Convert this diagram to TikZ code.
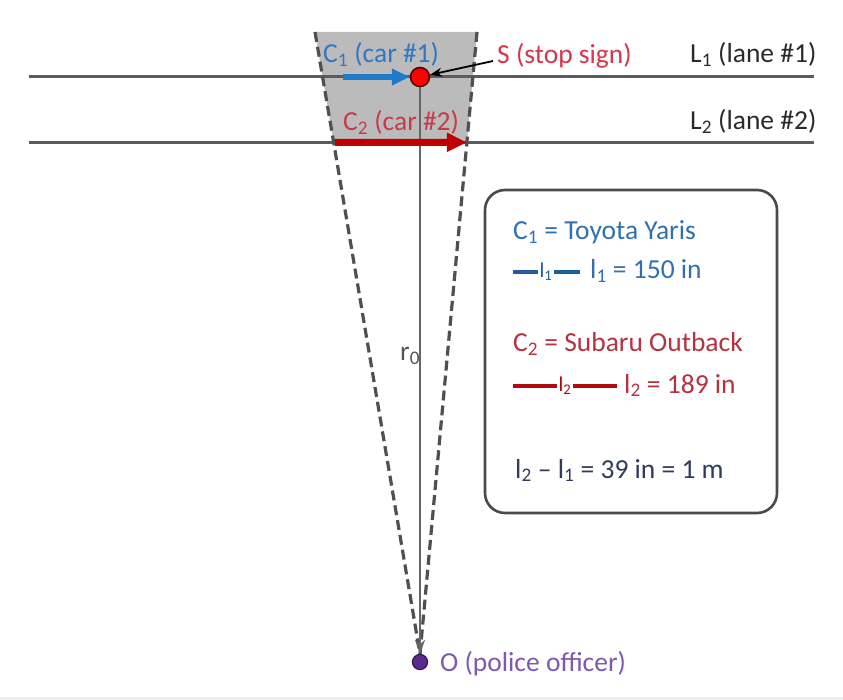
\documentclass[tikz,border=0pt]{standalone}
\usepackage{fontspec}
\setmainfont{Carlito}
\usetikzlibrary{arrows.meta,calc}
\definecolor{laneGray}{HTML}{5C5C5C}
\definecolor{zoneGray}{HTML}{BBBBBB}
\definecolor{sightGray}{HTML}{505050}
\definecolor{rayGray}{HTML}{666666}
\definecolor{boxGray}{HTML}{4A4A4A}
\definecolor{carBlue}{HTML}{1F7AC8}
\definecolor{lblBlue}{HTML}{2E78C4}
\definecolor{txtBlue}{HTML}{3070B0}
\definecolor{mkBlue}{HTML}{1F5E9E}
\definecolor{carRed}{HTML}{C00000}
\definecolor{lblRed}{HTML}{C83A48}
\definecolor{txtRed}{HTML}{B5323F}
\definecolor{mkRed}{HTML}{B00A10}
\definecolor{stopRed}{HTML}{D6354A}
\definecolor{offTxt}{HTML}{8058B0}
\definecolor{offDot}{HTML}{5B2A8E}
\definecolor{navyTxt}{HTML}{2E3B5A}
\definecolor{darkTxt}{HTML}{2A2A2A}
\begin{document}
\begin{tikzpicture}[x=1pt,y=-1pt,
  lbl/.style={font=\fontsize{27.5}{30}\selectfont, inner sep=0pt, anchor=base west},
  smalllbl/.style={font=\fontsize{21}{23}\selectfont, inner sep=1pt},
  lane/.style={draw=laneGray, line width=3pt},
  sight/.style={draw=sightGray, line width=3.2pt, dash pattern=on 10pt off 5pt},
  marker/.style={line width=4.5pt},
]
\useasboundingbox (0,0) rectangle (843,700);
\fill[white] (0,0) rectangle (843,700);
\fill[black!6] (0,697) rectangle (843,700);

% key points
\coordinate (TL) at (315,32);
\coordinate (TR) at (477,32);
\coordinate (Otip) at (420,654);
\coordinate (BL) at ($(TL)!0.1774!(Otip)$);
\coordinate (BR) at ($(TR)!0.1774!(Otip)$);

% shaded zone
\fill[zoneGray] (TL) -- (TR) -- (BR) -- (BL) -- cycle;

% lanes
\coordinate (L1a) at (29,77);
\coordinate (L1b) at (814,77);
\coordinate (L2a) at (29,142.5);
\coordinate (L2b) at (814,142.5);
\draw[lane] (L1a) -- (L1b);
\draw[lane] (L2a) -- (L2b);

% lines of sight
\draw[sight] (TL) -- (Otip);
\draw[sight] (TR) -- (Otip);

% stop sign and officer
\node[circle, fill=red, draw=black!70!red, line width=1.5pt, minimum size=19pt, inner sep=0pt] (S) at (420,77) {};
\node[circle, fill=offDot, draw=offDot!60!black, line width=1.3pt, minimum size=15pt, inner sep=0pt] (O) at (420,662) {};

% r0 ray
\draw[draw=rayGray, line width=2.6pt, -{Stealth[length=14pt,width=10pt]}] (S.south) -- (O.north);
\node[lbl, text=darkTxt!80!white] (r0) at (400,361) {r\textsubscript{0}};

% cars
\coordinate (C1s) at (343,77);
\draw[carBlue, line width=6pt, -{Triangle[length=18pt,width=16pt]}] (C1s) -- (S.west);
\coordinate (C2s) at (335,142.5);
\draw[carRed, line width=7pt, -{Triangle[length=20pt,width=18pt]}] (C2s) -- (BR);

\node[lbl, text=lblBlue] (c1lbl) at (323,63) {C\textsubscript{1} (car \#1)};
\node[lbl, text=lblRed] (c2lbl) at (343,131) {C\textsubscript{2} (car \#2)};

% stop sign label
\node[lbl, text=stopRed] (slbl) at (497,64) {S (stop sign)};
\coordinate (sA) at (493,61);
\draw[black, line width=1.8pt, -{Stealth[length=12pt,width=9pt]}] (sA) -- (S);

% lane labels
\node[lbl, text=darkTxt] (l1lbl) at (690,63) {L\textsubscript{1} (lane \#1)};
\node[lbl, text=darkTxt] (l2lbl) at (690,130) {L\textsubscript{2} (lane \#2)};

% officer label
\node[lbl, text=offTxt] (olbl) at (440,671) {O (police officer)};

% legend box
\node[draw=boxGray, line width=2.6pt, rounded corners=20pt, minimum width=292pt, minimum height=323pt, inner sep=0pt] (box) at (631,351.5) {};

\node[lbl, text=txtBlue] (t1) at (513,240) {C\textsubscript{1} = Toyota Yaris};
\node[smalllbl, text=mkBlue] (m1) at (546,272) {l\textsubscript{1}};
\coordinate (m1a) at (513,272);
\coordinate (m1b) at (580,272);
\draw[mkBlue, marker] (m1a) -- (m1.west);
\draw[mkBlue, marker] (m1.east) -- (m1b);
\node[lbl, text=txtBlue] (t2) at (590,279) {l\textsubscript{1} = 150 in};

\node[lbl, text=txtRed] (t3) at (513,352) {C\textsubscript{2} = Subaru Outback};
\node[smalllbl, text=mkRed] (m2) at (565,386) {l\textsubscript{2}};
\coordinate (m2a) at (513,386);
\coordinate (m2b) at (617,386);
\draw[mkRed, marker] (m2a) -- (m2.west);
\draw[mkRed, marker] (m2.east) -- (m2b);
\node[lbl, text=txtRed] (t4) at (624,393) {l\textsubscript{2} = 189 in};

\node[lbl, text=navyTxt] (t5) at (515,478) {l\textsubscript{2} – l\textsubscript{1} = 39 in = 1 m};
\end{tikzpicture}
\end{document}
